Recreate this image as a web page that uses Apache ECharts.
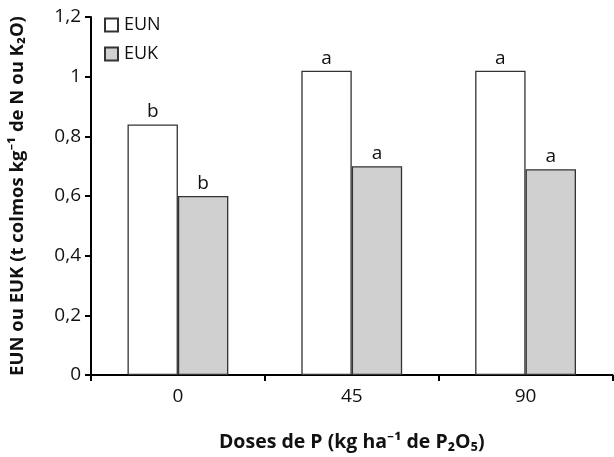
<!DOCTYPE html>
<html><head><meta charset="utf-8">
<script src="https://cdn.jsdelivr.net/npm/echarts@6/dist/echarts.min.js"></script>
<style>html,body{margin:0;padding:0;background:#fff}#c{width:614px;height:457px}</style>
</head><body><div id="c"></div>
<script>
var categories = ['0', '45', '90'];
var eun = [0.84, 1.02, 1.02];
var euk = [0.60, 0.70, 0.69];
var eunLetters = ['b', 'a', 'a'];
var eukLetters = ['b', 'a', 'a'];
var yTicks = [0, 0.2, 0.4, 0.6, 0.8, 1, 1.2];

var FONT = '"Open Sans", "Noto Sans", sans-serif';
var chart = echarts.init(document.getElementById('c'));
function lbl(letters) {
  return {show: true, position: 'top', distance: 3, color: '#111', fontSize: 19, fontFamily: FONT,
    formatter: function (p) { return letters[p.dataIndex]; }};
}
chart.setOption({
  animation: false,
  grid: {left: 89, right: 1.5, top: 17, bottom: 81, containLabel: false},
  legend: {
    left: 99, top: 11, orient: 'vertical', itemGap: 11, itemWidth: 13, itemHeight: 13,
    textStyle: {fontSize: 18, fontFamily: FONT, color: '#111', padding: [0, 0, 0, 1]},
    data: [{name: 'EUN', icon: 'rect'}, {name: 'EUK', icon: 'rect'}]
  },
  xAxis: {
    type: 'category', data: categories,
    name: 'Doses de P (kg ha⁻¹ de P₂O₅)', nameLocation: 'middle', nameGap: 57,
    nameTextStyle: {fontSize: 19.5, fontWeight: 'bold', fontFamily: FONT, color: '#111'},
    axisLine: {lineStyle: {color: '#000', width: 2}},
    axisTick: {show: true, length: 6, lineStyle: {color: '#000', width: 2}},
    axisLabel: {fontSize: 19, fontFamily: FONT, color: '#111', margin: 12}
  },
  yAxis: {
    type: 'value', min: 0, max: 1.2, interval: 0.2,
    name: 'EUN ou EUK (t colmos kg⁻¹ de N ou K₂O)', nameLocation: 'middle', nameGap: 64,
    nameTextStyle: {fontSize: 18.5, fontWeight: 'bold', fontFamily: FONT, color: '#111'},
    splitLine: {show: false},
    axisLine: {show: true, lineStyle: {color: '#000', width: 2}},
    axisTick: {show: true, length: 6, lineStyle: {color: '#000', width: 2}},
    axisLabel: {fontSize: 19, fontFamily: FONT, color: '#111', margin: 10,
      formatter: function (v) {
        var t = yTicks.filter(function (x) { return Math.abs(x - v) < 1e-9; });
        return (t.length ? t[0] : v).toString().replace('.', ',');
      }}
  },
  series: [
    {name: 'EUN', type: 'bar', data: eun, barGap: '0%', barCategoryGap: '42%',
      itemStyle: {color: '#ffffff', borderColor: '#333', borderWidth: 1.3}, label: lbl(eunLetters)},
    {name: 'EUK', type: 'bar', data: euk,
      itemStyle: {color: '#d0d0d0', borderColor: '#333', borderWidth: 1.3}, label: lbl(eukLetters)}
  ]
});
</script></body></html>
